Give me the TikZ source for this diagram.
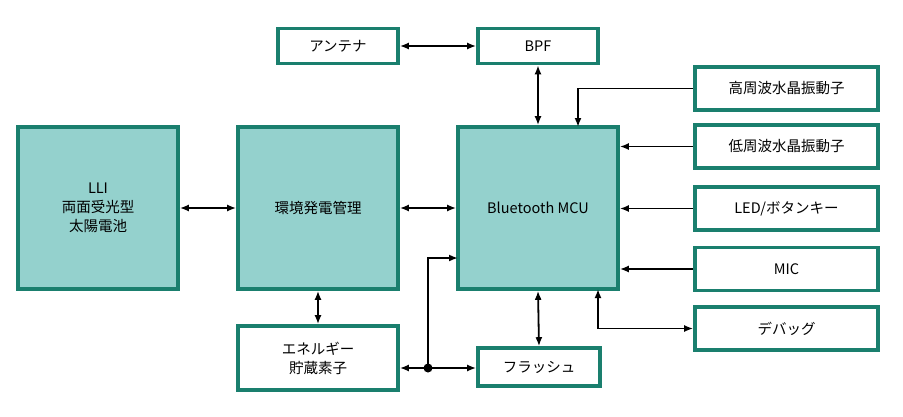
\documentclass[tikz,border=0pt]{standalone}
\usepackage{fontspec}
\setmainfont{Noto Sans CJK JP}
\usetikzlibrary{arrows.meta}
\definecolor{bfill}{HTML}{94D1CD}
\definecolor{bdr}{HTML}{1A7F6E}
\begin{document}
\begin{tikzpicture}[x=1pt,y=-1pt,
  box/.style={draw=bdr,line width=3.6pt,fill=white,inner sep=0pt,font=\fontsize{14.5}{19}\selectfont,align=center},
  big/.style={box,fill=bfill},
  ar/.style={line width=1.8pt,-{Latex[length=9pt,width=7pt]}},
  dar/.style={line width=1.8pt,{Latex[length=9pt,width=7pt]}-{Latex[length=9pt,width=7pt]}}]
\useasboundingbox (0,0) rectangle (903,416);
\node[big,minimum width=160pt,minimum height=162pt] (lli) at (98,208) {LLI\\両面受光型\\太陽電池};
\node[big,minimum width=160pt,minimum height=162pt] (env) at (318,208) {環境発電管理};
\node[big,minimum width=160pt,minimum height=162pt] (mcu) at (538,208) {Bluetooth MCU};
\node[box,minimum width=120pt,minimum height=35pt] (ant) at (338,46) {アンテナ};
\node[box,minimum width=120pt,minimum height=35pt] (bpf) at (538,46) {BPF};
\node[box,minimum width=183pt,minimum height=43pt] (hf) at (786.5,88.5) {高周波水晶振動子};
\node[box,minimum width=183pt,minimum height=43pt] (lf) at (786.5,146.5) {低周波水晶振動子};
\node[box,minimum width=183pt,minimum height=43pt] (led) at (786.5,208.5) {LED/ボタンキー};
\node[box,minimum width=183pt,minimum height=43pt] (mic) at (786.5,269) {MIC};
\node[box,minimum width=183pt,minimum height=43pt] (dbg) at (786.5,328.5) {デバッグ};
\node[box,minimum width=160pt,minimum height=64pt] (en) at (318,358) {エネルギー\\貯蔵素子};
\node[box,minimum width=122pt,minimum height=38pt] (fl) at (539,367) {フラッシュ};
\draw[dar] (lli.east) -- (env.west);
\draw[dar] (env.east) -- (mcu.west);
\draw[dar] (ant.east) -- (bpf.west);
\draw[dar] (bpf.south) -- (mcu.north);
\draw[dar] (env.south) -- (en.north);
\draw[dar] (mcu.south) -- (fl.north);
\draw[ar] (hf.west) -| (578,127);
\draw[ar] (lf.west) -- (lf.west -| mcu.east);
\draw[ar] (led.west) -- (led.west -| mcu.east);
\draw[ar] (mic.west) -- (mic.west -| mcu.east);
\draw[dar] (598,289) |- (dbg.west);
\coordinate (j) at (428,368);
\draw[ar] (j) -- (en.east |- j);
\draw[ar] (j) -- (fl.west |- j);
\draw[ar] (j) |- (458,258);
\fill (j) circle (4.5pt);
\end{tikzpicture}
\end{document}
